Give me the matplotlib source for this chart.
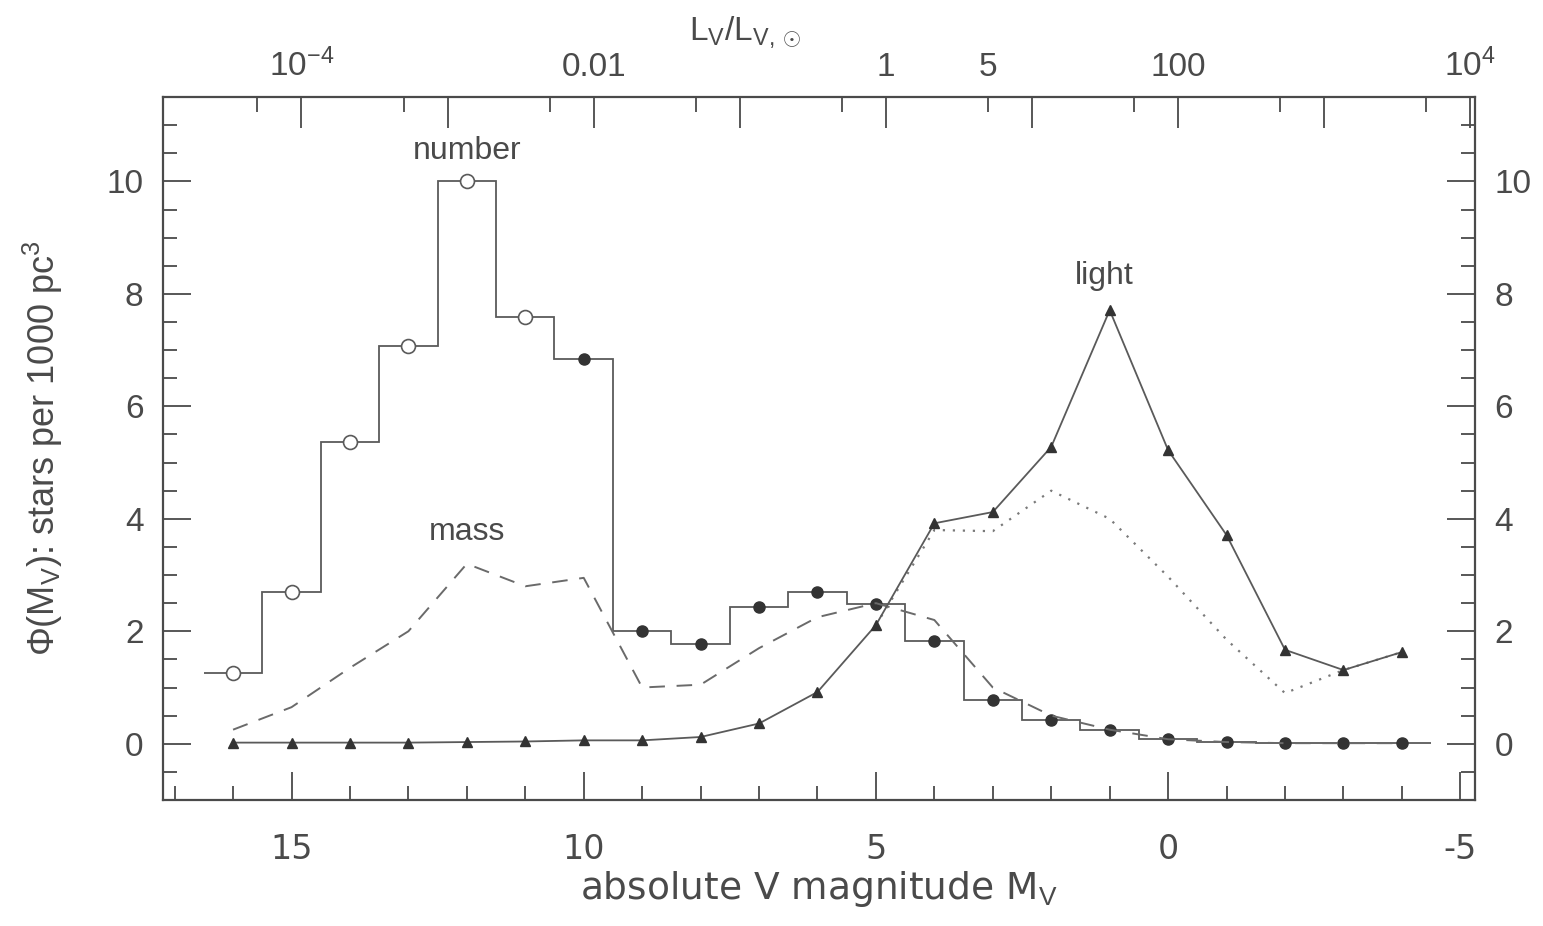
import numpy as np
import matplotlib
matplotlib.use("Agg")
import matplotlib.pyplot as plt
from matplotlib.ticker import MultipleLocator

# absolute V magnitude bins (bin centres)
mags = [16, 15, 14, 13, 12, 11, 10, 9, 8, 7, 6, 5, 4, 3, 2, 1, 0, -1, -2, -3, -4]
# stars per 1000 pc^3
number = [1.26, 2.69, 5.37, 7.08, 10.0, 7.58, 6.85, 2.01, 1.78, 2.44, 2.70, 2.49,
          1.83, 0.78, 0.43, 0.25, 0.09, 0.03, 0.01, 0.01, 0.01]
mass = [0.25, 0.65, 1.35, 2.0, 3.2, 2.8, 2.95, 1.0, 1.05, 1.7, 2.25, 2.5,
        2.2, 1.0, 0.5, 0.25, 0.08, 0.03, 0.01, 0.01, 0.01]
light = [0.02, 0.02, 0.02, 0.02, 0.03, 0.04, 0.06, 0.06, 0.12, 0.36, 0.92, 2.11,
         3.92, 4.12, 5.28, 7.71, 5.22, 3.71, 1.67, 1.31, 1.63]
# dotted variant of the light curve (bright end only)
dot_mags = [5, 4, 3, 2, 1, 0, -1, -2, -3, -4]
light_dot = [2.11, 3.8, 3.78, 4.5, 4.0, 2.97, 1.85, 0.9, 1.31, 1.63]
# number of open-circle points (faint end), rest filled
n_open = 6

M_SUN = 4.83
top_major = [1e-4, 1e-3, 1e-2, 1e-1, 1, 10, 100, 1e3, 1e4]
top_minor = [5e-5, 5e-4, 5e-3, 5e-2, 0.5, 5, 50, 500, 5e3]
top_major_labels = ["$10^{-4}$", "", "0.01", "", "1", "", "100", "", "$10^4$"]
top_minor_labels = ["", "", "", "", "", "5", "", "", ""]

ink = "#4a4a4a"
line_c = "#5a5a5a"

plt.rcParams["font.family"] = ["Liberation Sans", "DejaVu Sans"]
plt.rcParams["mathtext.fontset"] = "custom"
plt.rcParams["mathtext.rm"] = "Liberation Sans"
plt.rcParams["mathtext.it"] = "Liberation Sans"
plt.rcParams["axes.unicode_minus"] = False

fig = plt.figure(figsize=(15.43, 9.26), dpi=100)
ax = fig.add_axes([0.1056, 0.1361, 0.8503, 0.7591])

m = np.array(mags, dtype=float)
edges = np.append(m + 0.5, m[-1] - 0.5)
ax.stairs(number[::-1], edges[::-1], baseline=None, color=line_c, lw=1.3)
ax.plot(m[:n_open], number[:n_open], "o", ms=10, mfc="white", mec=line_c, mew=1.2, ls="none")
ax.plot(m[n_open:], number[n_open:], "o", ms=8, color="#333333", ls="none")

ax.plot(m, mass, color="#6a6a6a", lw=1.4, ls=(0, (8, 6)))
ax.plot(dot_mags, light_dot, color="#7a7a7a", lw=1.6, ls=(0, (1, 3.5)))
ax.plot(m, light, color=line_c, lw=1.3, marker="^", ms=7, mfc="#333333", mec="#333333")

ax.text(12.0, 10.28, "number", ha="center", va="bottom", fontsize=23, color=ink)
ax.text(12.0, 3.5, "mass", ha="center", va="bottom", fontsize=23, color=ink)
ax.text(1.1, 8.05, "light", ha="center", va="bottom", fontsize=23, color=ink)

ax.set_xlim(17.2, -5.25)
ax.set_ylim(-1, 11.5)
ax.xaxis.set_major_locator(MultipleLocator(5))
ax.xaxis.set_minor_locator(MultipleLocator(1))
ax.yaxis.set_major_locator(MultipleLocator(2))
ax.yaxis.set_minor_locator(MultipleLocator(0.5))
ax.tick_params(which="both", direction="in", colors=ink, width=1.3,
               left=True, right=True, bottom=True, top=False,
               labelright=True, labelsize=24, pad=14)
ax.tick_params(axis="x", which="both", pad=24)
ax.tick_params(which="major", length=20)
ax.tick_params(which="minor", length=10)
for sp in ax.spines.values():
    sp.set_color(ink)
    sp.set_linewidth(1.6)
ax.spines["top"].set_visible(False)

ax.set_xlabel("absolute V magnitude M$_\\mathrm{V}$", fontsize=27, color=ink,
              family="DejaVu Sans", labelpad=2)
ax.set_ylabel("$\\Phi$(M$_\\mathrm{V}$): stars per 1000 pc$^3$", fontsize=26, color=ink,
              labelpad=30)
for lab in ax.get_xticklabels():
    lab.set_family("DejaVu Sans")


def mag_to_lum(x):
    return 10 ** (-0.4 * (np.asarray(x, dtype=float) - M_SUN))


def lum_to_mag(y):
    y = np.clip(np.asarray(y, dtype=float), 1e-12, None)
    return M_SUN - 2.5 * np.log10(y)


sec = ax.secondary_xaxis("top", functions=(mag_to_lum, lum_to_mag))
sec.set_xticks(top_major, labels=top_major_labels)
sec.set_xticks(top_minor, labels=top_minor_labels, minor=True)
sec.tick_params(which="both", direction="in", colors=ink, width=1.3, labelsize=24, pad=10)
sec.tick_params(which="major", length=22)
sec.tick_params(which="minor", length=11)
sec.spines["top"].set_color(ink)
sec.spines["top"].set_linewidth(1.6)

fig.text(745 / 1543, 1 - 32 / 926, "L$_\\mathrm{V}$/L$_{\\mathrm{V},\\odot}$",
         ha="center", va="center", fontsize=24, color=ink)

fig.savefig("out.png", dpi=100)
